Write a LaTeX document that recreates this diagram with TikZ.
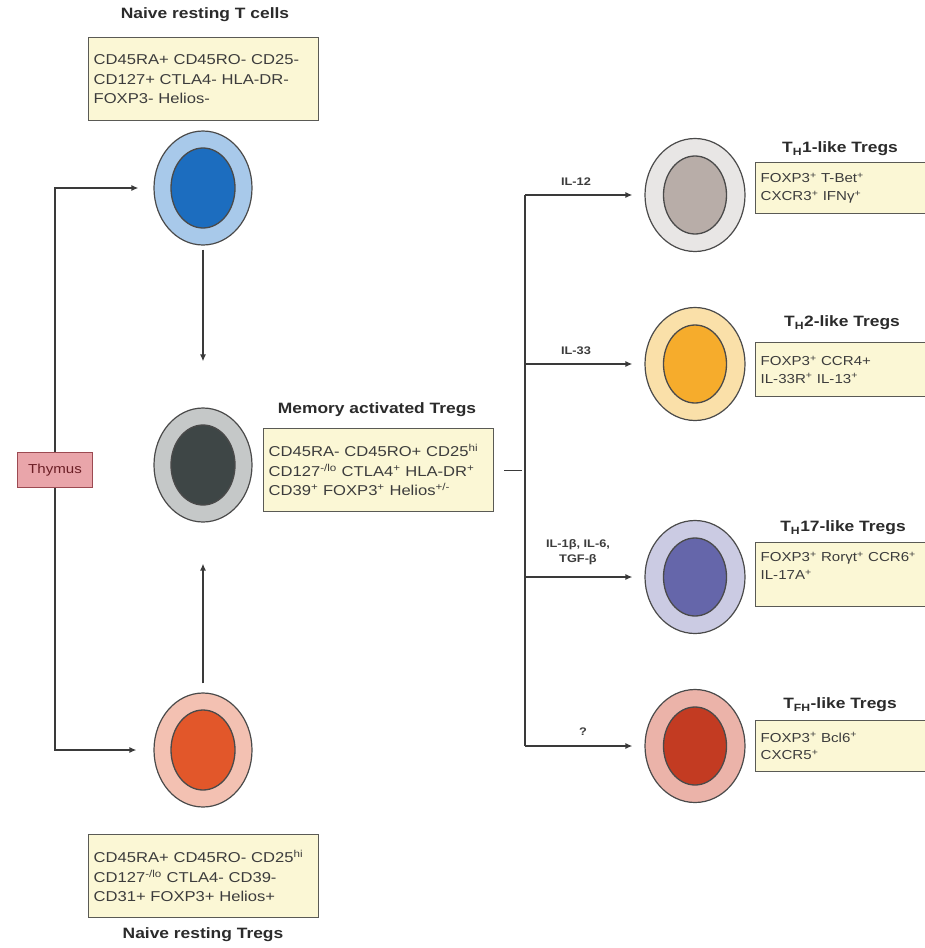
\documentclass[tikz,border=0pt]{standalone}
\usepackage{fontspec}
\setmainfont{Liberation Sans}[FakeStretch=1.16]
\usetikzlibrary{shapes.geometric,arrows.meta}
\definecolor{boxfill}{HTML}{FBF7D5}
\definecolor{boxedge}{HTML}{5A5A55}
\definecolor{txt}{HTML}{3C3C3C}
\definecolor{ttltxt}{HTML}{2B2B2B}
\definecolor{celledge}{HTML}{4A4A4A}
\definecolor{linec}{HTML}{3A3A3A}
\definecolor{bluO}{HTML}{A8C9EA}
\definecolor{bluI}{HTML}{1C6DBF}
\definecolor{grO}{HTML}{C5C8C8}
\definecolor{grI}{HTML}{3E4646}
\definecolor{orO}{HTML}{F3C1B2}
\definecolor{orI}{HTML}{E2572A}
\definecolor{thaO}{HTML}{E8E6E5}
\definecolor{thaI}{HTML}{B8ADA8}
\definecolor{thbO}{HTML}{FAE0A9}
\definecolor{thbI}{HTML}{F6AC2C}
\definecolor{thcO}{HTML}{CBCBE3}
\definecolor{thcI}{HTML}{6566AA}
\definecolor{thdO}{HTML}{EBB3A9}
\definecolor{thdI}{HTML}{C33B22}
\definecolor{thyF}{HTML}{E9A5AA}
\definecolor{thyE}{HTML}{9C4A52}
\definecolor{thyT}{HTML}{6B1E25}
\newcommand{\supx}[1]{\textsuperscript{#1}}
\tikzset{
  cellout/.style={ellipse, draw=celledge, line width=1.2pt, minimum width=98pt, minimum height=114pt, inner sep=0pt},
  cellin/.style={ellipse, draw=celledge, line width=1.3pt, minimum width=64pt, minimum height=80pt, inner sep=0pt},
  boxL/.style={draw=boxedge, fill=boxfill, line width=1.3pt, anchor=north west, align=left,
    text width=220pt, inner xsep=5pt, inner ysep=3pt, minimum height=83pt,
    font=\fontsize{14.3}{19.5}\selectfont, text=txt},
  boxR/.style={draw=boxedge, fill=boxfill, line width=1.3pt, anchor=north west, align=left,
    text width=165pt, inner xsep=5pt, inner ysep=3pt, minimum height=#1,
    font=\fontsize{13}{17.5}\selectfont, text=txt},
  ttl/.style={font=\bfseries\fontsize{15}{18}\selectfont, text=ttltxt, inner sep=1pt},
  lab/.style={font=\bfseries\fontsize{11}{15}\selectfont, text=txt, inner sep=1pt, align=center},
  thybox/.style={draw=thyE, fill=thyF, line width=1.1pt, minimum width=75pt, minimum height=35pt,
    inner sep=1pt, font=\fontsize{13}{15}\selectfont, text=thyT},
  conn/.style={draw=linec, line width=1.3pt, -{Latex[length=7pt,width=6pt]}},
  plain/.style={draw=linec, line width=1.3pt}
}
\begin{document}
\begin{tikzpicture}[x=1pt,y=-1pt]
\path[use as bounding box] (0,0) rectangle (924,948);
\fill[white] (0,0) rectangle (924,948);

% ---------- left column cells ----------
\node[cellout, fill=bluO] (nT) at (203,188) {};
\node[cellin, fill=bluI] (nTi) at (203,188) {};
\node[cellout, fill=grO] (mem) at (203,465) {};
\node[cellin, fill=grI] (memi) at (203,465) {};
\node[cellout, fill=orO] (nTr) at (203,750) {};
\node[cellin, fill=orI] (nTri) at (203,750) {};

% ---------- left titles and boxes ----------
\node[ttl] (nTt) at (205,15) {Naive resting T cells};
\node[boxL] (nTb) at (88,37) {CD45RA+ CD45RO- CD25-\\CD127+ CTLA4- HLA-DR-\\FOXP3- Helios-};

\node[ttl] (memt) at (377,410) {Memory activated Tregs};
\node[boxL] (memb) at (263,428) {CD45RA- CD45RO+ CD25\supx{hi}\\CD127\supx{-/lo} CTLA4\supx{+} HLA-DR\supx{+}\\CD39\supx{+} FOXP3\supx{+} Helios\supx{+/-}};

\node[boxL] (nTrb) at (88,834) {CD45RA+ CD45RO- CD25\supx{hi}\\CD127\supx{-/lo} CTLA4- CD39-\\CD31+ FOXP3+ Helios+};
\node[ttl] (nTrt) at (203,935) {Naive resting Tregs};

% ---------- thymus ----------
\node[thybox] (thy) at (55,470) {Thymus};
\draw[conn, shorten >=15pt] (thy.north) |- (nT.west);
\draw[conn, shorten >=17pt] (thy.south) |- (nTr.west);
\draw[conn, shorten <=4pt, shorten >=46pt] (nT.south) -- (mem.north);
\draw[conn, shorten <=9pt, shorten >=41pt] (nTr.north) -- (mem.south);

% ---------- right column cells ----------
\node[cellout, minimum width=100pt, minimum height=113pt, fill=thaO] (ca) at (695,195) {};
\node[cellin, minimum width=63pt, minimum height=78pt, fill=thaI] (cai) at (695,195) {};
\node[cellout, minimum width=100pt, minimum height=113pt, fill=thbO] (cb) at (695,364) {};
\node[cellin, minimum width=63pt, minimum height=78pt, fill=thbI] (cbi) at (695,364) {};
\node[cellout, minimum width=100pt, minimum height=113pt, fill=thcO] (cc) at (695,577) {};
\node[cellin, minimum width=63pt, minimum height=78pt, fill=thcI] (cci) at (695,577) {};
\node[cellout, minimum width=100pt, minimum height=113pt, fill=thdO] (cd) at (695,746) {};
\node[cellin, minimum width=63pt, minimum height=78pt, fill=thdI] (cdi) at (695,746) {};

% ---------- right titles and boxes ----------
\node[ttl] (cat) at (840,149) {T\textsubscript{H}1-like Tregs};
\node[boxR=51pt] (cab) at (755,162) {FOXP3\supx{+} T-Bet\supx{+}\\CXCR3\supx{+} IFNγ\supx{+}};
\node[ttl] (cbt) at (842,323) {T\textsubscript{H}2-like Tregs};
\node[boxR=54pt] (cbb) at (755,342) {FOXP3\supx{+} CCR4+\\IL-33R\supx{+} IL-13\supx{+}};
\node[ttl] (cct) at (843,528) {T\textsubscript{H}17-like Tregs};
\node[boxR=64pt] (ccb) at (755,542) {FOXP3\supx{+} Rorγt\supx{+} CCR6\supx{+}\\IL-17A\supx{+}\\\mbox{}};
\node[ttl] (cdt) at (840,705) {T\textsubscript{FH}-like Tregs};
\node[boxR=51pt] (cdb) at (755,720) {FOXP3\supx{+} Bcl6\supx{+}\\CXCR5\supx{+}};

% ---------- branching connectors ----------
\path (memb.east) ++(28,0) coordinate (jm);
\coordinate (ja) at (525,195);
\coordinate (jb) at (525,364);
\coordinate (jc) at (525,577);
\coordinate (jd) at (525,746);
\draw[plain, shorten <=10pt] (memb.east) -- (jm);
\draw[plain] (ja) -- (jd);
\draw[conn, shorten >=12pt] (ja) -- (ca.west);
\draw[conn, shorten >=12pt] (jb) -- (cb.west);
\draw[conn, shorten >=12pt] (jc) -- (cc.west);
\draw[conn, shorten >=12pt] (jd) -- (cd.west);

\node[lab] (la) at (576,182) {IL-12};
\node[lab] (lb) at (576,351) {IL-33};
\node[lab] (lc) at (578,552) {IL-1β, IL-6,\\TGF-β};
\node[lab] (ld) at (583,732) {?};
\end{tikzpicture}
\end{document}
